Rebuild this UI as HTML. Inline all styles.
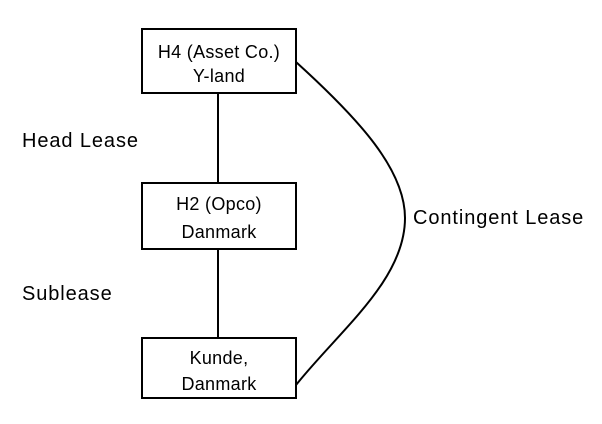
<!DOCTYPE html>
<html><head><style>
html,body{margin:0;padding:0;background:#fff;}
svg text{font-family:"Liberation Sans",sans-serif;fill:#000;}
.b{font-size:18px;letter-spacing:0.3px;}
.l{font-size:20px;letter-spacing:0.9px;}
</style></head><body>
<svg width="602" height="419" viewBox="0 0 602 419" xmlns="http://www.w3.org/2000/svg">
<g fill="#fff" stroke="#000" stroke-width="2">
<rect x="142" y="29" width="154" height="64"/>
<rect x="142" y="183" width="154" height="66"/>
<rect x="142" y="338" width="154" height="60"/>
</g>
<g stroke="#000" stroke-width="2" fill="none">
<line x1="218" y1="93" x2="218" y2="183"/>
<line x1="218" y1="249" x2="218" y2="338"/>
<path d="M296,62 C360,120 405,170 405,218 C405,280 340,330 296,385"/>
</g>
<g text-anchor="middle" class="b">
<text x="219" y="58">H4 (Asset Co.)</text>
<text x="219" y="82">Y-land</text>
<text x="219" y="210">H2 (Opco)</text>
<text x="219" y="238">Danmark</text>
<text x="219" y="364">Kunde,</text>
<text x="219" y="390">Danmark</text>
</g>
<text class="l" x="22" y="147">Head Lease</text>
<text class="l" x="22" y="300">Sublease</text>
<text class="l" x="413" y="224">Contingent Lease</text>
</svg>
</body></html>
